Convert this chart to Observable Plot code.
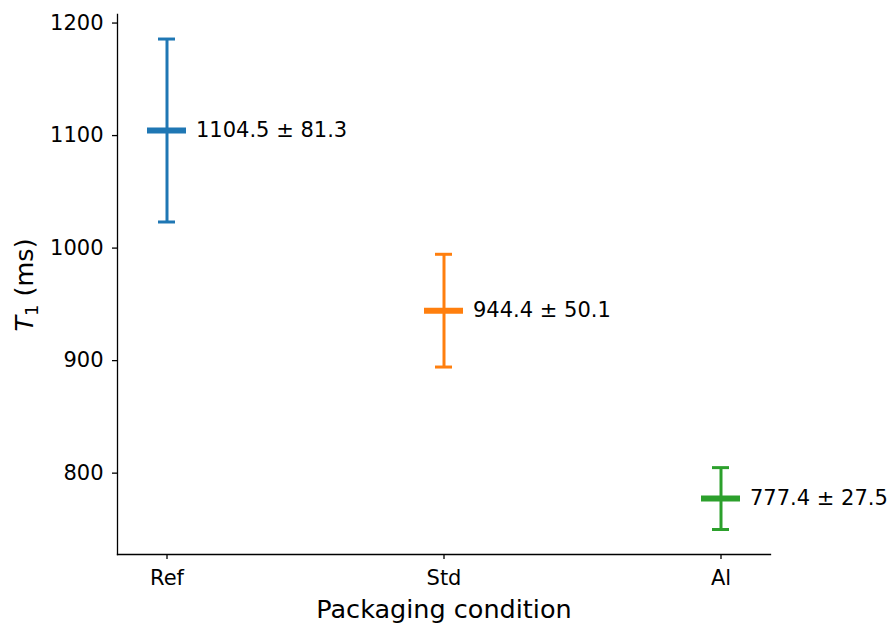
<!DOCTYPE html>
<html><head><meta charset="utf-8">
<script src="https://cdn.jsdelivr.net/npm/d3@7"></script>
<script src="https://cdn.jsdelivr.net/npm/@observablehq/plot@0.6"></script>
<style>body{margin:0;background:#fff}</style>
</head><body><div id="chart"></div>
<script>
const conditions = ["Ref", "Std", "Al"];
const means = [1104.5, 944.4, 777.4];
const sds = [81.3, 50.1, 27.5];
const colors = ["#1f77b4", "#ff7f0e", "#2ca02c"];
const yTicks = [800, 900, 1000, 1100, 1200];
const yDomain = [727.7, 1207.6];

const data = conditions.map((c, i) => ({
  condition: c, mean: means[i], sd: sds[i],
  lo: means[i] - sds[i], hi: means[i] + sds[i],
  label: `${means[i].toFixed(1)} ± ${sds[i].toFixed(1)}`
}));

const plot = Plot.plot({
  width: 890, height: 623,
  marginLeft: 117, marginRight: 120, marginTop: 14, marginBottom: 69,
  style: {fontFamily: "DejaVu Sans", fontSize: "21px", color: "#000", background: "#fff", overflow: "visible"},
  x: {type: "band", domain: conditions, paddingInner: 0.8592, paddingOuter: 0.1081, label: null},
  y: {domain: yDomain, label: null},
  color: {domain: conditions, range: colors},
  marks: [
    Plot.frame({anchor: "left", stroke: "#000", strokeWidth: 1.3}),
    Plot.frame({anchor: "bottom", stroke: "#000", strokeWidth: 1.3}),
    Plot.axisY({ticks: yTicks, tickFormat: "d", tickSize: 5, tickPadding: 9, label: null, fontSize: 21, strokeWidth: 1.3}),
    Plot.axisX({tickSize: 5, tickPadding: 11, label: null, fontSize: 21, strokeWidth: 1.3}),
    Plot.ruleX(data, {x: "condition", y1: "lo", y2: "hi", stroke: "condition", strokeWidth: 3}),
    Plot.tickY(data, {x: "condition", y: "lo", stroke: "condition", strokeWidth: 3, insetLeft: 11, insetRight: 11}),
    Plot.tickY(data, {x: "condition", y: "hi", stroke: "condition", strokeWidth: 3, insetLeft: 11, insetRight: 11}),
    Plot.tickY(data, {x: "condition", y: "mean", stroke: "condition", strokeWidth: 6}),
    Plot.text(data, {x: "condition", y: "mean", text: "label", dx: 29, textAnchor: "start", fill: "#000", fontSize: 21})
  ]
});

const svg = d3.select(plot);
svg.append("text")
  .attr("x", 444).attr("y", 618)
  .attr("text-anchor", "middle")
  .attr("font-size", 25.5)
  .attr("fill", "#000")
  .text("Packaging condition");
const yl = svg.append("text")
  .attr("transform", "translate(33,285) rotate(-90)")
  .attr("text-anchor", "middle")
  .attr("font-size", 25.5)
  .attr("fill", "#000");
yl.append("tspan").attr("font-style", "italic").text("T");
yl.append("tspan").attr("font-size", 18).attr("dy", 5).text("1");
yl.append("tspan").attr("dy", -5).text(" (ms)");

document.getElementById("chart").appendChild(plot);
</script>
</body></html>
